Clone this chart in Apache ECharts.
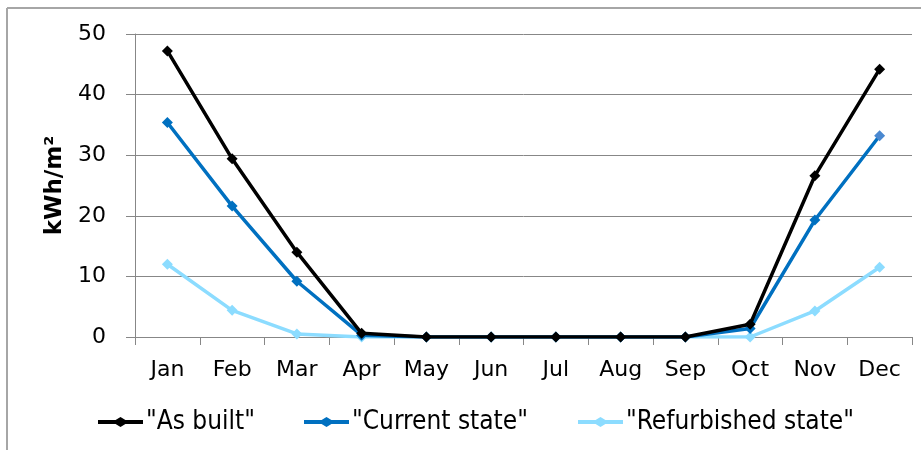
<!DOCTYPE html>
<html>
<head>
<meta charset="utf-8">
<script src="https://cdn.jsdelivr.net/npm/echarts@6/dist/echarts.min.js"></script>
<style>
html,body{margin:0;padding:0;background:#fff;}
#c{width:921px;height:450px;}
</style>
</head>
<body>
<div id="c"></div>
<script>
const categories = ['Jan','Feb','Mar','Apr','May','Jun','Jul','Aug','Sep','Oct','Nov','Dec'];
const asBuilt = [47.2, 29.4, 14.0, 0.6, 0, 0, 0, 0, 0, 2.1, 26.6, 44.2];
const currentState = [35.4, 21.6, 9.2, 0.3, 0, 0, 0, 0, 0, 1.4, 19.3, 33.2];
const refurbished = [12.0, 4.4, 0.5, 0, 0, 0, 0, 0, 0, 0, 4.3, 11.5];
const seriesNames = ['"As built"', '"Current state"', '"Refurbished state"'];
const yTicks = [0, 10, 20, 30, 40, 50];

const colors = ['#000000', '#0070C0', '#8CDCFF'];
const legendLeft = [93, 299, 573];
const iconPath = 'path://M0,3 L18,3 L23,0 L28,3 L46,3 L46,7 L28,7 L23,10 L18,7 L0,7 Z';

const chart = echarts.init(document.getElementById('c'), null, {renderer: 'canvas'});
const dataSets = [asBuilt, currentState, refurbished];

const series = dataSets.map((d, i) => ({
  name: seriesNames[i],
  type: 'line',
  data: d.map((v, j) => (i === 1 && j === d.length - 1)
      ? {value: v, itemStyle: {color: '#4A88D0'}} : v),
  symbol: 'diamond',
  symbolSize: 11,
  showSymbol: true,
  lineStyle: {color: colors[i], width: 3.5},
  itemStyle: {color: colors[i]},
  z: 10 - i,
  animation: false
}));

const legends = seriesNames.map((n, i) => ({
  data: [n],
  left: legendLeft[i],
  top: 404,
  icon: iconPath,
  itemWidth: 45,
  itemHeight: 10,
  itemGap: 0,
  textStyle: {fontFamily: '"Liberation Sans Narrow", "DejaVu Sans Condensed", sans-serif', fontSize: 26, color: '#000', padding: [0,0,0,-2]},
  selectedMode: false
}));

chart.setOption({
  animation: false,
  backgroundColor: '#fff',
  grid: {left: 135, right: 9, top: 34, bottom: 113, containLabel: false},
  legend: legends,
  xAxis: {
    type: 'category',
    data: categories,
    boundaryGap: true,
    axisLine: {show: true, lineStyle: {color: '#878787', width: 1}},
    axisTick: {show: true, length: 8, lineStyle: {color: '#878787'}},
    axisLabel: {color: '#000', fontFamily: 'DejaVu Sans', fontSize: 22, margin: 22}
  },
  yAxis: {
    type: 'value',
    min: yTicks[0],
    max: yTicks[yTicks.length - 1],
    interval: 10,
    name: 'kWh/m²',
    nameLocation: 'middle',
    nameRotate: 90,
    nameGap: 68,
    nameTextStyle: {fontFamily: 'DejaVu Sans', fontWeight: 'bold', fontSize: 23, color: '#000'},
    axisLine: {show: true, lineStyle: {color: '#878787', width: 1}},
    axisTick: {show: true, length: 9, lineStyle: {color: '#878787'}},
    splitLine: {show: true, lineStyle: {color: '#878787', width: 1}},
    axisLabel: {color: '#000', fontFamily: 'DejaVu Sans', fontSize: 22, margin: 29}
  },
  graphic: [
    {type: 'line', shape: {x1: 7, y1: 8, x2: 7, y2: 450}, style: {stroke: '#A6A6A6', lineWidth: 2}, z: 100},
    {type: 'line', shape: {x1: 7, y1: 8, x2: 921, y2: 8}, style: {stroke: '#A6A6A6', lineWidth: 2}, z: 100}
  ],
  series: series
});
</script>
</body>
</html>
